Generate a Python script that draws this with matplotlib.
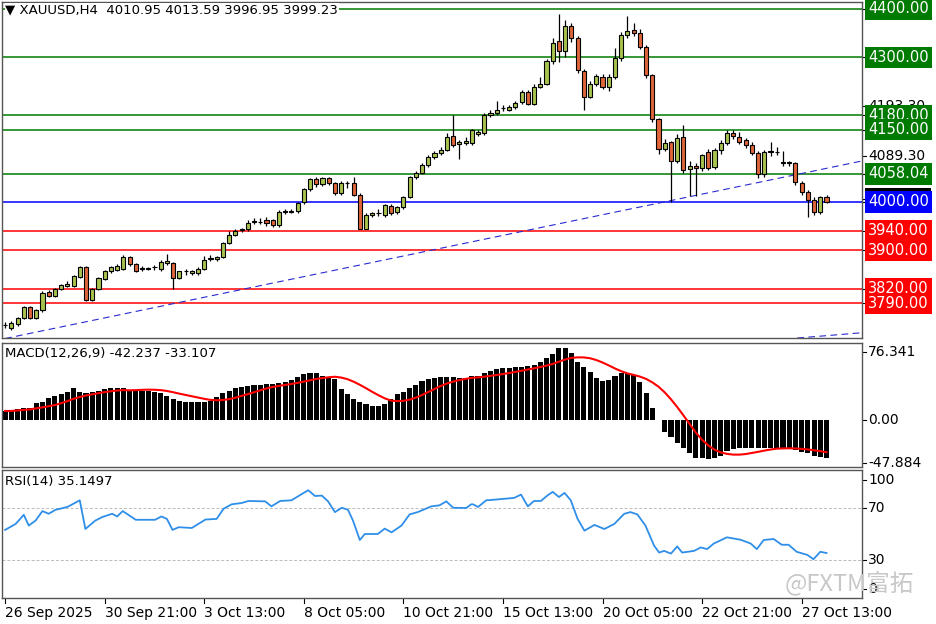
import numpy as np
import pandas as pd
import matplotlib
matplotlib.use("Agg")
import matplotlib.pyplot as plt
from matplotlib.patches import Rectangle
import matplotlib.transforms as mtrans

plt.rcParams['font.family'] = ['DejaVu Sans', 'Noto Sans CJK SC']

opens = [3745,3738,3747,3759,3782,3759,3776,3814,3805,3819, 3826,3826,3845,3866,3797,3819,3840,3856,3860,3862,
 3885,3871,3864,3862,3865,3862,3873,3873,3843,3856, 3852,3852,3862,3881,3881,3885,3916,3931,3941,3943,
 3959,3959,3963,3963,3952,3980,3980,3982,3999,4026, 4047,4037,4049,4039,4018,4039,4039,4015,3945,3973,
 3977,3973,3992,3979,3989,4010,4051,4061,4077,4093, 4102,4108,4137,4120,4123,4122,4140,4142,4180,4185,
 4194,4191,4196,4208,4229,4203,4239,4245,4292,4334, 4312,4365,4339,4271,4218,4245,4260,4239,4260,4298,
 4347,4356,4351,4321,4263,4173,4109,4125,4084,4135, 4068,4075,4070,4103,4073,4108,4122,4144,4135,4128,
 4118,4102,4059,4104,4104,4080,4082,4080,4039,4020, 4004,3980,4010.95]
closes = [3746,3750,3759,3782,3760,3776,3812,3805,3819,3828, 3831,3847,3866,3797,3819,3842,3856,3866,3867,3887,
 3871,3858,3862,3864,3866,3876,3878,3843,3856,3857, 3856,3862,3880,3883,3885,3916,3932,3940,3943,3957,
 3960,3958,3957,3952,3980,3981,3982,3997,4026,4047, 4037,4049,4039,4018,4040,4040,4015,3945,3974,3977,
 3978,3994,3977,3990,4011,4051,4061,4077,4093,4102, 4108,4135,4118,4125,4126,4149,4146,4180,4184,4191,
 4195,4196,4206,4229,4203,4239,4245,4292,4329,4312, 4365,4339,4274,4218,4245,4261,4239,4260,4298,4346,
 4354,4350,4321,4263,4173,4109,4123,4084,4133,4066, 4075,4070,4097,4070,4108,4122,4142,4137,4125,4118,
 4102,4059,4104,4105,4103,4082,4080,4042,4021,4004, 3980,4010,3999.23]
highs = [3752,3753,3762,3785,3784,3779,3815,3817,3822,3831, 3836,3849,3868,3868,3822,3844,3860,3868,3872,3890,
 3888,3873,3868,3866,3870,3880,3893,3875,3858,3862, 3860,3866,3888,3890,3888,3918,3940,3945,3947,3962,
 3966,3966,3968,3965,3983,3986,3986,3999,4030,4050, 4052,4052,4052,4042,4043,4043,4052,4018,3977,3980,
 3985,3996,3996,3992,4013,4054,4065,4080,4097,4105, 4115,4143,4180,4128,4135,4152,4150,4185,4190,4210,
 4200,4200,4210,4233,4233,4244,4260,4296,4340,4390, 4378,4370,4345,4276,4250,4265,4265,4265,4320,4352,
 4385,4372,4358,4325,4265,4175,4130,4127,4140,4160, 4085,4080,4100,4110,4112,4128,4150,4150,4145,4133,
 4125,4105,4108,4125,4113,4106,4085,4082,4044,4024, 4010,4012,4013.59]
lows = [3738,3735,3744,3757,3758,3757,3773,3803,3803,3817, 3824,3824,3843,3795,3795,3817,3838,3853,3857,3860,
 3868,3855,3858,3860,3860,3858,3870,3819,3840,3848, 3848,3848,3860,3878,3878,3883,3913,3929,3938,3940,
 3955,3955,3950,3948,3948,3975,3977,3978,3995,4022, 4032,4034,4035,4015,4015,4030,4012,3943,3943,3968,
 3970,3968,3974,3975,3985,4008,4048,4058,4073,4090, 4098,4105,4115,4090,4118,4118,4136,4138,4176,4180,
 4188,4188,4193,4203,4200,4200,4236,4242,4287,4290, 4300,4332,4268,4190,4215,4240,4235,4230,4255,4292,
 4340,4345,4318,4258,4165,4100,4105,4000,4080,4060, 4012,4012,4065,4067,4068,4100,4118,4130,4120,4112,
 4097,4050,4052,4095,4097,4075,4075,4035,4015,3968, 3973,3975,3996.95]

macd_hist = [10.1,10.1,12.0,13.1,13.8,19.5,20.6,24.3,26.9,28.8, 31.1,35.6,31.1,29.9,31.1,32.6,34.4,35.6,36.3,35.6,
 32.9,32.9,32.9,32.9,31.8,30.7,26.9,23.6,21.3,19.8, 19.8,19.8,19.8,21.3,26.2,29.9,32.6,35.6,37.4,38.2,
 39.3,39.3,40.0,40.8,41.2,42.3,44.9,48.7,51.3,52.4, 52.4,49.8,48.7,46.0,34.4,28.8,23.2,19.8,17.6,15.7,
 15.7,17.6,23.2,28.8,31.8,35.6,39.3,44.2,45.7,46.8, 47.9,48.3,47.9,47.5,47.5,49.4,49.4,52.4,55.0,56.9,
 58.0,58.0,59.1,59.9,60.6,61.8,65.5,69.2,74.1,80.5, 80.5,74.9,65.5,59.9,53.5,47.5,44.2,44.9,49.4,53.1,
 52.4,50.5,43.0,29.9,13.1,0.0,-13.1,-19.5,-25.4,-31.8, -37.4,-43.0,-43.0,-44.2,-43.0,-40.4,-34.4,-32.9,-31.8,-31.8,
 -31.8,-31.8,-31.8,-31.8,-31.8,-31.8,-31.8,-33.7,-35.6,-37.4, -40.4,-41.2,-42.237]

rsi_bar = [0,1.7,3.0,3.8,4.9,6.0,7.0,8.1,10.0,12.0,12.9,14.5,15.6,17.2,18.0,18.9,21.0,24.1,25.1,26.0,26.9,27.9,30.0,
 32.2,34.0,35.1,36.4,38.0,39.1,41.8,42.8,44.2,46.0,48.7,49.8,50.9,51.9,53.0,54.1,55.1,55.9,57.0,57.8,59.9,61.0,
 62.1,63.7,65.0,66.3,68.5,69.8,70.9,72.0,74.1,74.9,75.2,76.0,77.3,78.6,81.8,82.9,84.0,85.0,86.1,87.2,88.0,89.0,
 89.9,90.9,92.0,93.1,94.7,96.3,97.9,99.5,100.5,101.6,102.9,104.3,105.1,105.9,107.0,108.0,108.8,110.7,111.8,
 112.8,113.9,116.0,118.2,119.8,120.8,121.9,123.5,124.8,125.9,127.2,128.9,129.9,131.0,132.0]
rsi_val = [53.2,57.9,65.0,56.6,60.5,67.9,65.8,68.9,71.1,76.3,53.9,60.5,63.2,65.8,63.7,67.9,61.1,61.1,63.7,61.8,53.2,
 55.3,54.7,61.3,61.8,69.7,73.2,74.2,75.8,75.5,71.6,75.8,76.3,84.2,79.7,80.0,75.5,67.1,70.5,68.9,60.5,45.3,50.0,
 50.0,54.2,51.3,56.6,65.3,67.1,71.6,72.4,75.5,70.5,70.3,73.2,73.2,71.1,76.3,76.8,78.2,80.8,71.6,75.8,75.8,80.3,
 82.9,78.9,82.1,76.3,61.8,52.6,57.1,53.9,57.9,65.8,67.1,65.3,56.6,40.8,35.5,36.8,34.7,40.3,35.5,36.8,39.5,38.2,
 42.6,47.4,45.5,42.6,38.2,45.3,46.1,41.6,41.6,36.1,33.7,30.3,36.1,35.1497]

green_levels = [4400.00, 4300.00, 4180.00, 4150.00, 4058.04]
blue_levels = [4000.00]
red_levels = [3940.00, 3900.00, 3820.00, 3790.00]
plain_levels = [4193.30, 4089.30]
last_close = 3999.23
tick_labels = ['26 Sep 2025', '30 Sep 21:00', '3 Oct 13:00', '8 Oct 05:00', '10 Oct 21:00',
               '15 Oct 13:00', '20 Oct 05:00', '22 Oct 21:00', '27 Oct 13:00']
tick_bars = [0, 16, 32, 48, 64, 80, 96, 112, 128]
trend1 = ([0, 137.7], [3717, 4085])
trend2 = ([127.3, 137.7], [3718, 3729])

W, H = 936, 624
fig = plt.figure(figsize=(W/100, H/100), dpi=100)
def axes_px(x0, y0, x1, y1):
    return fig.add_axes([x0/W, 1-y1/H, (x1-x0)/W, (y1-y0)/H])
ax = axes_px(2, 2, 862, 338)
axm = axes_px(2, 343, 862, 467)
axr = axes_px(2, 470, 862, 598)
XL = (-0.5, 137.7)
for a in (ax, axm, axr):
    a.set_xlim(*XL)
    a.set_xticks([]); a.set_yticks([])
    for s in a.spines.values():
        s.set_color('#555555'); s.set_linewidth(1)

n = len(opens)
idx = np.arange(n)
ax.set_ylim(3718.1, 4414.5)
for lv in green_levels:
    ax.axhline(lv, color='#007a00', lw=1.1, zorder=1)
for lv in blue_levels:
    ax.axhline(lv, color='#0000ff', lw=1.1, zorder=1)
for lv in red_levels:
    ax.axhline(lv, color='#ff0000', lw=1.1, zorder=1)
ax.plot(*trend1, color='#2a2ad0', lw=0.8, ls=(0, (6, 4)), zorder=2)
ax.plot(*trend2, color='#2a2ad0', lw=0.8, ls=(0, (6, 4)), zorder=2)
for i in range(n):
    o, c, h, l = opens[i], closes[i], highs[i], lows[i]
    col = '#a8c44e' if c >= o else '#e0653a'
    ax.vlines(i, l, h, color='black', lw=0.9, zorder=3)
    lo, hi = min(o, c), max(o, c)
    hgt = max(hi - lo, 0.8)
    ax.add_patch(Rectangle((i-0.33, lo), 0.66, hgt, facecolor=col, edgecolor='black', lw=0.8, zorder=4))
ax.text(0.004, 0.995, '▼ XAUUSD,H4  4010.95 4013.59 3996.95 3999.23', transform=ax.transAxes,
        fontsize=9.5, va='top', ha='left', color='black',
        bbox=dict(facecolor='white', edgecolor='none', pad=0.5))

def rlabel(a, y, txt, fc=None, tc='black', z=3, fs=10):
    tr = mtrans.blended_transform_factory(a.transAxes, a.transData)
    kw = dict(transform=tr, fontsize=fs, va='center', ha='left', color=tc, clip_on=False, zorder=z)
    if fc:
        kw['bbox'] = dict(facecolor=fc, edgecolor='none', pad=2.2)
    a.text(1.007, y, txt, **kw)
    a.plot([1.0, 1.005], [y, y], transform=tr, color='black', lw=0.8, clip_on=False)

for lv in plain_levels:
    rlabel(ax, lv + 6, f'{lv:.2f}', z=3)
rlabel(ax, last_close + 7, f'{last_close:.2f}', 'black', 'white', z=4, fs=10.5)
for lv in green_levels:
    rlabel(ax, lv, f'{lv:.2f}', '#007a00', 'white', z=5, fs=10.5)
rlabel(ax, blue_levels[0], f'{blue_levels[0]:.2f}', '#0000ff', 'white', z=5, fs=10.5)
for lv in red_levels:
    rlabel(ax, lv, f'{lv:.2f}', '#ff0000', 'white', z=5, fs=10.5)

# MACD
axm.set_ylim(-52.8, 86.4)
axm.bar(idx, macd_hist, width=0.82, color='black', zorder=2)
signal = pd.Series(macd_hist).rolling(9, min_periods=1).mean()
axm.plot(idx, signal, color='#ff0000', lw=1.5, zorder=3)
axm.text(0.004, 0.97, 'MACD(12,26,9) -42.237 -33.107', transform=axm.transAxes, fontsize=9.5, va='top')
for v, t in [(76.341, '76.341'), (0.0, '0.00'), (-47.884, '-47.884')]:
    rlabel(axm, v, t)

# RSI
axr.set_ylim(0, 100)
for lv in (70, 30):
    axr.axhline(lv, color='#bbbbbb', lw=0.7, ls=(0, (3, 2)))
axr.plot(rsi_bar, rsi_val, color='#2f8fe8', lw=1.3)
axr.text(0.004, 0.96, 'RSI(14) 35.1497', transform=axr.transAxes, fontsize=9.5, va='top')
for v, t in [(92, '100'), (70, '70'), (30, '30'), (7, '0')]:
    rlabel(axr, v, t)
axr.text(0.985, 0.12, '@FXTM富拓', transform=axr.transAxes, fontsize=17, color='#c8c8c8',
         ha='center', va='center', family=['Noto Sans CJK SC', 'DejaVu Sans'], zorder=6, clip_on=False)

for b, t in zip(tick_bars, tick_labels):
    tr = mtrans.blended_transform_factory(axr.transData, axr.transAxes)
    axr.plot([b, b], [0, -0.04], transform=tr, color='black', lw=0.8, clip_on=False)
    axr.text(b, -0.06, t, transform=tr, fontsize=10, ha='left', va='top', clip_on=False)

fig.savefig('out.png', dpi=100, facecolor='white')
